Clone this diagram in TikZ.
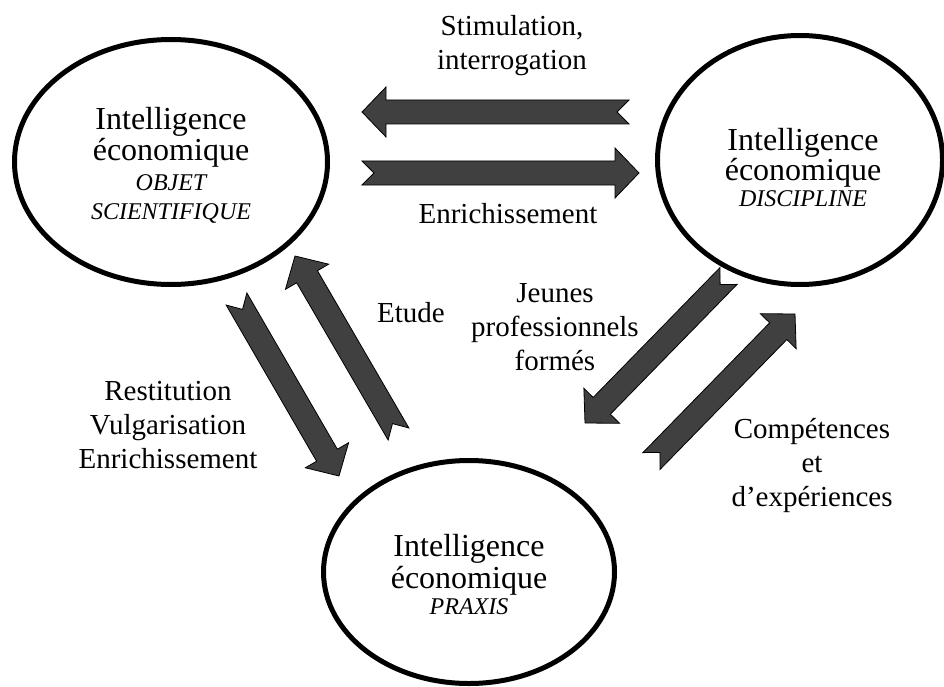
\documentclass[tikz,border=0pt]{standalone}
\usepackage{fontspec}
\setmainfont{Liberation Serif}
\usetikzlibrary{shapes.geometric,calc}
\definecolor{arrowgray}{HTML}{404040}
\tikzset{
  circ/.style={draw, ellipse, line width=5pt, inner sep=0pt},
  etext/.style={align=center, inner sep=0pt, font=\fontsize{32}{29}\selectfont},
  barrow/.style={draw=black, fill=arrowgray, line width=0.8pt, line join=miter},
  lbl/.style={align=center, inner sep=0pt, font=\fontsize{29}{34}\selectfont},
}
\newcommand{\itl}[1]{{\fontsize{24}{29}\selectfont\itshape #1}}
\newcommand{\blockarrow}[2]{%
  \draw[barrow]
    ($(#1)!12pt!90:(#2)$) --
    ($(#2)!24pt!(#1)!12pt!90:(#2)$) --
    ($(#2)!24pt!(#1)!25pt!90:(#2)$) --
    (#2) --
    ($(#2)!24pt!(#1)!25pt!-90:(#2)$) --
    ($(#2)!24pt!(#1)!12pt!-90:(#2)$) --
    ($(#1)!12pt!-90:(#2)$) --
    ($(#1)!12pt!(#2)$) -- cycle;}
\begin{document}
\begin{tikzpicture}[x=1pt, y=-1pt]
  \useasboundingbox (0,0) rectangle (944,687);
  % ellipses
  \node[circ, minimum width=313pt, minimum height=245pt] (obj) at (171,162) {};
  \node[circ, minimum width=285pt, minimum height=249pt] (dis) at (800,160) {};
  \node[circ, minimum width=291pt, minimum height=223pt] (pra) at (469,572) {};
  % ellipse texts (anchor = baseline of last line)
  \node[etext, anchor=base] (objt) at (171,219) {Intelligence\\économique\\[1pt]\itl{OBJET}\\\itl{SCIENTIFIQUE}};
  \node[etext, anchor=base] (dist) at (803,206) {Intelligence\\[-1pt]économique\\[-3pt]\itl{DISCIPLINE}};
  \node[etext, anchor=base] (prat) at (469,614) {Intelligence\\[1pt]économique\\[-3pt]\itl{PRAXIS}};
  % arrow end points
  \coordinate (a1t) at (629,112); \coordinate (a1h) at (362,112);
  \coordinate (a2t) at (362,173); \coordinate (a2h) at (639,173);
  \coordinate (a3t) at (236.5,299); \coordinate (a3h) at (339,476);
  \coordinate (a4t) at (398.5,434); \coordinate (a4h) at (295,256);
  \coordinate (a5t) at (728.5,276); \coordinate (a5h) at (585,423);
  \coordinate (a6t) at (651.5,461); \coordinate (a6h) at (795,314);
  \blockarrow{a1t}{a1h}
  \blockarrow{a2t}{a2h}
  \blockarrow{a3t}{a3h}
  \blockarrow{a4t}{a4h}
  \blockarrow{a5t}{a5h}
  \blockarrow{a6t}{a6h}
  % labels (anchor = baseline of last line)
  \node[lbl, anchor=base] (stim) at (512,70) {Stimulation,\\interrogation};
  \node[lbl, anchor=base] (enr) at (508,223) {Enrichissement};
  \node[lbl, anchor=base] (etu) at (411,322) {Etude};
  \node[lbl, anchor=base] (jeu) at (555,370) {Jeunes\\professionnels\\formés};
  \node[lbl, anchor=base] (res) at (168,468) {Restitution\\Vulgarisation\\Enrichissement};
  \node[lbl, anchor=base] (com) at (812,506) {Compétences\\et\\d’expériences};
\end{tikzpicture}
\end{document}
